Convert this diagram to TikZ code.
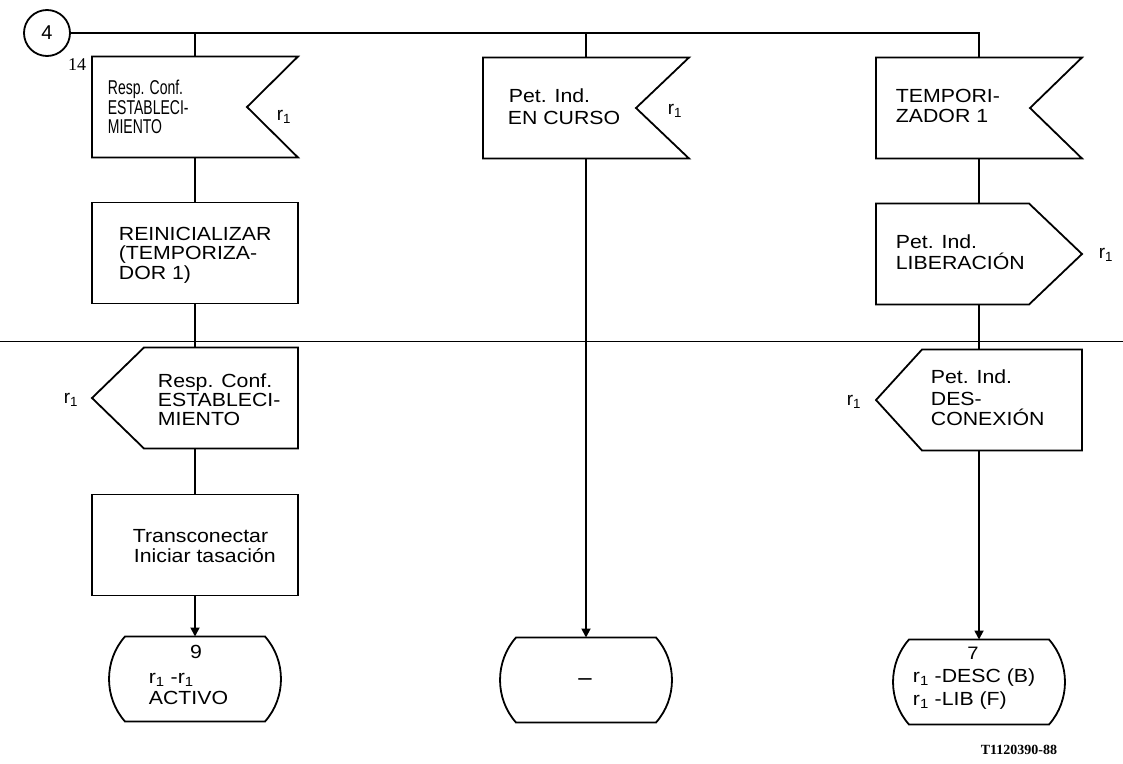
\documentclass[tikz,border=0pt]{standalone}
\usepackage{fontspec}
\setmainfont{Liberation Sans}
\newfontfamily\condf[FakeStretch=0.7]{Liberation Sans}
\newfontfamily\widef[FakeStretch=1.12]{Liberation Sans}
\newfontfamily\serf{Liberation Serif}
\usetikzlibrary{calc,arrows.meta}
\begin{document}
\begin{tikzpicture}[x=1pt,y=-1pt,
  line width=1.8pt, line join=miter,
  frame/.style={draw=none, inner sep=0pt, outer sep=0pt, minimum width=206pt, minimum height=101pt},
  stframe/.style={draw=none, inner sep=0pt, outer sep=0pt, minimum width=172pt, minimum height=85pt},
  txt/.style={anchor=base west, inner sep=0pt, font=\widef\fontsize{19}{19}\selectfont},
  ctxt/.style={anchor=base west, inner sep=0pt, font=\condf\fontsize{20}{20}\selectfont},
  rlab/.style={inner sep=0pt, font=\fontsize{19}{19}\selectfont},
  arr/.style={-{Triangle[length=9pt,width=9pt]}},
  sep/.style={line width=0.8pt}
]
\useasboundingbox (0,0) rectangle (1123,763);

% connector circle
\node[draw, circle, minimum size=46pt, inner sep=0pt, font=\fontsize{20}{20}\selectfont] (c4) at (47,33) {4};

% left column
\node[frame] (s1) at (195,107) {};
\node[frame] (s2) at (195,253) {};
\node[frame] (s3) at (195,398) {};
\node[frame] (s4) at (195,545) {};
\node[stframe] (s5) at (195,679) {};
% middle column
\node[frame] (m1) at (586,108) {};
\node[stframe] (m2) at (586,680) {};
% right column
\node[frame] (r1) at (979,108) {};
\node[frame] (r2) at (979,254) {};
\node[frame] (r3) at (979,400) {};
\node[stframe] (r4) at (979,682) {};

% outlines
\draw (s1.north west) -- (s1.north east) -- ([xshift=-51pt]s1.east) -- (s1.south east) -- (s1.south west) -- cycle;
\draw (s2.north west) rectangle (s2.south east);
\draw (s3.west) -- ([xshift=52pt]s3.north west) -- (s3.north east) -- (s3.south east) -- ([xshift=52pt]s3.south west) -- cycle;
\draw (s4.north west) rectangle (s4.south east);
\draw (m1.north west) -- (m1.north east) -- ([xshift=-53pt]m1.east) -- (m1.south east) -- (m1.south west) -- cycle;
\draw (r1.north west) -- (r1.north east) -- ([xshift=-52pt]r1.east) -- (r1.south east) -- (r1.south west) -- cycle;
\draw (r2.north west) -- ([xshift=-53pt]r2.north east) -- (r2.east) -- ([xshift=-53pt]r2.south east) -- (r2.south west) -- cycle;
\draw (r3.west) -- ([xshift=46pt]r3.north west) -- (r3.north east) -- (r3.south east) -- ([xshift=46pt]r3.south west) -- cycle;
\foreach \n in {s5,m2,r4}{
  \draw ([xshift=16pt]\n.north west) -- ([xshift=-16pt]\n.north east)
    .. controls ([xshift=5.3pt,yshift=-24pt]\n.north east) and ([xshift=5.3pt,yshift=24pt]\n.south east) .. ([xshift=-16pt]\n.south east)
    -- ([xshift=16pt]\n.south west)
    .. controls ([xshift=-5.3pt,yshift=24pt]\n.south west) and ([xshift=-5.3pt,yshift=-24pt]\n.north west) .. ([xshift=16pt]\n.north west) -- cycle;
}

% connectors
\draw (c4.east) -| (r1.north);
\draw (s1.north) -- (s1.north |- c4.east);
\draw (m1.north) -- (m1.north |- c4.east);
\draw (s1.south) -- (s2.north);
\draw (s2.south) -- (s3.north);
\draw (s3.south) -- (s4.north);
\draw[arr] (s4.south) -- (s5.north);
\draw[arr] (m1.south) -- (m2.north);
\draw (r1.south) -- (r2.north);
\draw (r2.south) -- (r3.north);
\draw[arr] (r3.south) -- (r4.north);

% separator
\coordinate (sepL) at (0,341);
\coordinate (sepR) at (1123,341);
\draw[sep] (sepL) -- (sepR);

% texts, one node per line
\node[ctxt] (t1a) at (107,94) {Resp. Conf.};
\node[ctxt] (t1b) at (107,114) {ESTABLECI-};
\node[ctxt] (t1c) at (107,133) {MIENTO};

\node[txt] (t2a) at (118,240) {REINICIALIZAR};
\node[txt] (t2b) at (118,259) {(TEMPORIZA-};
\node[txt] (t2c) at (118,279) {DOR 1)};

\node[txt] (t3a) at (157,387) {Resp. Conf.};
\node[txt] (t3b) at (157,406) {ESTABLECI-};
\node[txt] (t3c) at (157,425) {MIENTO};

\node[txt] (t4a) at (132,542) {Transconectar};
\node[txt] (t4b) at (133,562) {Iniciar tasación};

\node[anchor=base, inner sep=0pt, font=\widef\fontsize{19}{19}\selectfont] (t5a) at (196,658) {9};
\node[txt] (t5b) at (148,683) {r\textsubscript{1} -r\textsubscript{1}};
\node[txt] (t5c) at (148,704) {ACTIVO};

\node[txt] (t6a) at (508,102) {Pet. Ind.};
\node[txt] (t6b) at (507,124) {EN CURSO};

\node[inner sep=0pt, font=\fontsize{24}{24}\selectfont] (t7) at (585,682) {–};

\node[txt] (t8a) at (895,102) {TEMPORI-};
\node[txt] (t8b) at (895,122) {ZADOR 1};

\node[txt] (t9a) at (895,248) {Pet. Ind.};
\node[txt] (t9b) at (895,269) {LIBERACIÓN};

\node[txt] (t10a) at (930,383) {Pet. Ind.};
\node[txt] (t10b) at (930,405) {DES-};
\node[txt] (t10c) at (930,425) {CONEXIÓN};

\node[anchor=base, inner sep=0pt, font=\widef\fontsize{18}{18}\selectfont] (t11a) at (973,659) {7};
\node[txt] (t11b) at (912,682) {r\textsubscript{1} -DESC (B)};
\node[txt] (t11c) at (912,705) {r\textsubscript{1} -LIB (F)};

% r1 labels
\node[rlab] (ra) at (284,117) {r\textsubscript{1}};
\node[rlab] (rb) at (675,111) {r\textsubscript{1}};
\node[rlab] (rc) at (1106,255) {r\textsubscript{1}};
\node[rlab] (rd) at (71,400) {r\textsubscript{1}};
\node[rlab] (re) at (854,402) {r\textsubscript{1}};

% other labels
\node[inner sep=0pt, font=\serf\fontsize{18}{18}\selectfont] (n14) at (77,65) {14};
\node[inner sep=0pt, font=\serf\bfseries\fontsize{14}{14}\selectfont] (code) at (1019,750) {T1120390-88};
\end{tikzpicture}
\end{document}
